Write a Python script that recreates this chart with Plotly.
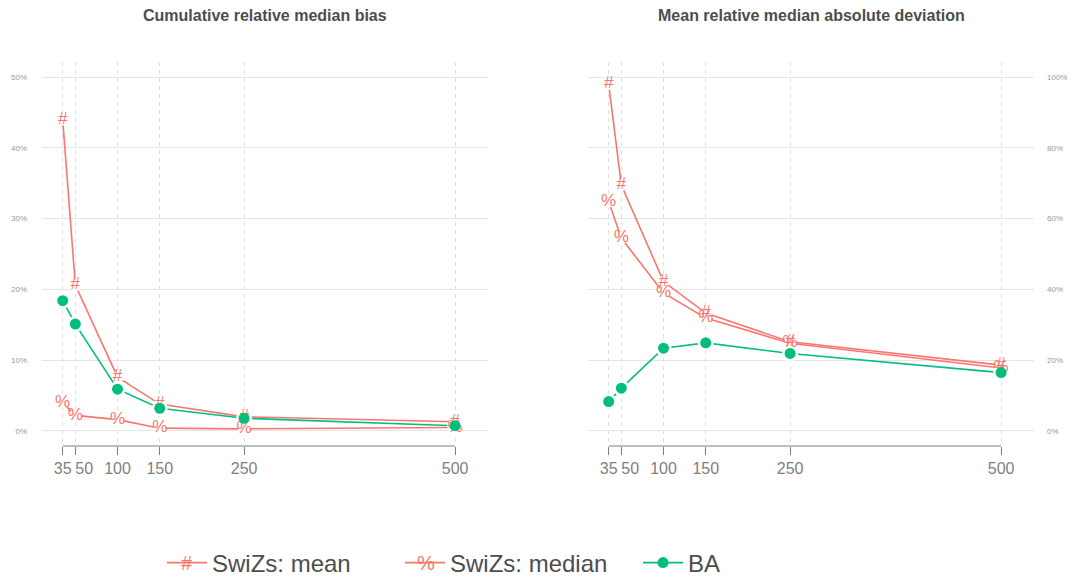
import plotly.graph_objects as go

# ---- data ----
sample_sizes = [35, 50, 100, 150, 250, 500]
x_ticks = [35, 50, 100, 150, 250, 500]
x_tick_labels = ["35", "\u00a0\u00a0\u00a0\u00a050", "100", "150", "250", "500"]

bias_mean = [44.0, 20.6, 7.6, 3.8, 2.0, 1.3]
bias_median = [4.0, 2.2, 1.6, 0.4, 0.3, 0.5]
bias_ba = [18.4, 15.1, 5.9, 3.2, 1.8, 0.75]

mad_mean = [98.0, 69.5, 42.2, 33.3, 25.2, 18.6]
mad_median = [64.8, 54.5, 39.0, 31.9, 24.8, 17.8]
mad_ba = [8.3, 12.1, 23.4, 24.9, 21.9, 16.5]

bias_ticks = [0, 10, 20, 30, 40, 50]
mad_ticks = [0, 20, 40, 60, 80, 100]

titles = ["Cumulative relative median bias", "Mean relative median absolute deviation"]
series_names = ["SwiZs: mean", "SwiZs: median", "BA"]
glyphs = ["#", "%"]

RED = "#F8766D"
GREEN = "#00BF7D"
FONT = "Liberation Sans, Arial, sans-serif"
W, H = 1072, 577

fig = go.Figure()

panels = [
    ("x", "y", bias_mean, bias_median, bias_ba),
    ("x2", "y2", mad_mean, mad_median, mad_ba),
]

for xa, ya, mean_v, med_v, ba_v in panels:
    # line layers with white "gaps" around points
    for vals, gap in [(mean_v, 12), (med_v, 12)]:
        fig.add_trace(go.Scatter(x=sample_sizes, y=vals, xaxis=xa, yaxis=ya,
                                 mode="lines+markers",
                                 line=dict(color=RED, width=1.6),
                                 marker=dict(color="white", size=gap, line=dict(width=0)),
                                 showlegend=False, hoverinfo="skip"))
    fig.add_trace(go.Scatter(x=sample_sizes, y=ba_v, xaxis=xa, yaxis=ya,
                             mode="lines+markers",
                             line=dict(color=GREEN, width=1.6),
                             marker=dict(color="white", size=16, line=dict(width=0)),
                             showlegend=False, hoverinfo="skip"))
    # glyph layers
    for vals, g in [(mean_v, glyphs[0]), (med_v, glyphs[1])]:
        fig.add_trace(go.Scatter(x=sample_sizes, y=vals, xaxis=xa, yaxis=ya,
                                 mode="text", text=[g] * len(vals),
                                 textposition="middle center",
                                 textfont=dict(color=RED, size=17, family=FONT),
                                 showlegend=False, hoverinfo="skip"))
    fig.add_trace(go.Scatter(x=sample_sizes, y=ba_v, xaxis=xa, yaxis=ya,
                             mode="markers",
                             marker=dict(color=GREEN, size=11),
                             showlegend=False))

# legend-only traces
fig.add_trace(go.Scatter(x=[None], y=[None], mode="lines", name=series_names[0],
                         line=dict(color=RED, width=1.6)))
fig.add_trace(go.Scatter(x=[None], y=[None], mode="lines", name=series_names[1],
                         line=dict(color=RED, width=1.6)))
fig.add_trace(go.Scatter(x=[None], y=[None], mode="lines+markers", name=series_names[2],
                         line=dict(color=GREEN, width=1.6), marker=dict(color=GREEN, size=11)))

# domains in pixels
top_px, bot_px = 62, 446
ydom = [(H - bot_px) / H, (H - top_px) / H]
xdom1 = [42 / W, 488 / W]
xdom2 = [588 / W, 1034 / W]

xaxis_common = dict(
    range=[10.5, 539], tickvals=x_ticks, ticktext=x_tick_labels,
    tickangle=0,
    showgrid=True, gridcolor="#E0E0E0", griddash="4px,4px", gridwidth=1,
    zeroline=False, showline=False,
    ticks="outside", ticklen=8, tickcolor="#7F7F7F", tickwidth=1,
    tickfont=dict(size=16, color="#7F7F7F", family=FONT),
    fixedrange=True, automargin=False,
)
yaxis_common = dict(
    showgrid=True, gridcolor="#E5E5E5", gridwidth=1, zeroline=False,
    showline=False, ticks="",
    tickfont=dict(size=8, color="#999999", family=FONT),
    fixedrange=True, automargin=False,
)

fig.update_layout(
    width=W, height=H,
    margin=dict(l=0, r=0, t=0, b=0, autoexpand=False),
    paper_bgcolor="white", plot_bgcolor="white",
    font=dict(family=FONT, color="#4D4D4D"),
    xaxis=dict(domain=xdom1, anchor="y", **xaxis_common),
    xaxis2=dict(domain=xdom2, anchor="y2", **xaxis_common),
    yaxis=dict(domain=ydom, anchor="x", range=[-2.12, 52.12], tickvals=bias_ticks,
               ticktext=[f"{v}%" for v in bias_ticks],
               ticklabelstandoff=14, **yaxis_common),
    yaxis2=dict(domain=ydom, anchor="x2", side="right", range=[-4.24, 104.24],
                tickvals=mad_ticks, ticktext=[f"{v}%" for v in mad_ticks],
                ticklabelstandoff=12, **yaxis_common),
    showlegend=True,
    legend=dict(orientation="h", x=162 / W, xanchor="left", y=(H - 563) / H, yanchor="middle",
                font=dict(size=24, color="#4D4D4D", family=FONT),
                itemwidth=40, entrywidth=183, bgcolor="rgba(0,0,0,0)"),
)

# axis lines spanning data range (range frame)
for xa, ya in [("x", "y"), ("x2", "y2")]:
    fig.add_shape(type="line", xref=xa, yref=f"{ya} domain",
                  x0=min(x_ticks), x1=max(x_ticks), y0=0, y1=0,
                  line=dict(color="#7F7F7F", width=1))

# titles
for dom, t in [(xdom1, titles[0]), (xdom2, titles[1])]:
    fig.add_annotation(x=(dom[0] + dom[1]) / 2, y=(H - 15) / H, xref="paper", yref="paper",
                       text=f"<b>{t}</b>", showarrow=False, xanchor="center", yanchor="middle",
                       font=dict(size=16, color="#4D4D4D", family=FONT))

# legend glyphs overlaid on legend lines
for gx, g in [(187, glyphs[0]), (426, glyphs[1])]:
    fig.add_annotation(x=gx / W, y=(H - 563) / H, xref="paper", yref="paper",
                       text=g, showarrow=False, xanchor="center", yanchor="middle",
                       font=dict(size=20, color=RED, family=FONT))

fig.write_html("out.html", config={"displayModeBar": False},
               post_script="document.body.style.margin='0px';")
